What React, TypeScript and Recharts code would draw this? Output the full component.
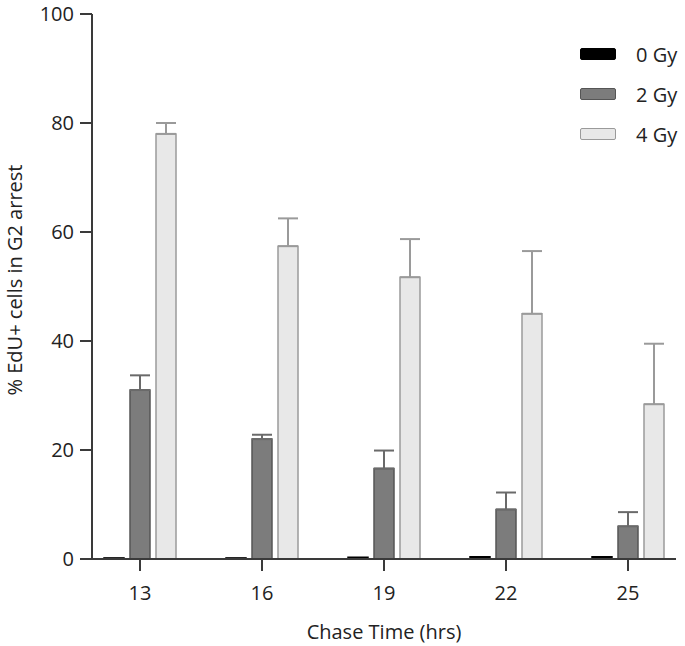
import React from "react";
import {
  BarChart,
  Bar,
  XAxis,
  YAxis,
  ErrorBar,
  Legend,
} from "recharts";

const categories = ["13", "16", "19", "22", "25"];
const gy0 = [0.2, 0.2, 0.3, 0.4, 0.4];
const gy2 = [31.0, 22.0, 16.6, 9.1, 6.0];
const gy2Err = [2.7, 0.8, 3.3, 3.1, 2.6];
const gy4 = [78.0, 57.4, 51.7, 45.0, 28.4];
const gy4Err = [2.0, 5.1, 7.0, 11.5, 11.1];
const yTicks = [0, 20, 40, 60, 80, 100];

const data = categories.map((time, i) => ({
  time,
  g0: gy0[i],
  g2: gy2[i],
  g4: gy4[i],
  e2: [0, gy2Err[i]],
  e4: [0, gy4Err[i]],
}));

const FONT = "'Open Sans', sans-serif";
const TEXT = "#222";
const AXIS = "#3a3a3a";

const legendItems = [
  { label: "0 Gy", fill: "#000000", stroke: "#000000" },
  { label: "2 Gy", fill: "#7c7c7c", stroke: "#555555" },
  { label: "4 Gy", fill: "#e8e8e8", stroke: "#9a9a9a" },
];

function LegendBox() {
  return (
    <div style={{ fontFamily: FONT, fontSize: 20, color: TEXT }}>
      {legendItems.map((it) => (
        <div
          key={it.label}
          style={{ display: "flex", alignItems: "center", height: 40 }}
        >
          <span
            style={{
              display: "inline-block",
              width: 34,
              height: 10,
              background: it.fill,
              border: `1.5px solid ${it.stroke}`,
              borderRadius: 2,
              marginRight: 20,
            }}
          />
          <span>{it.label}</span>
        </div>
      ))}
    </div>
  );
}

const YLabel = () => (
  <text
    x={22}
    y={280}
    transform="rotate(-90, 22, 280)"
    textAnchor="middle"
    fontSize={20}
    fontFamily={FONT}
    fill={TEXT}
  >
    % EdU+ cells in G2 arrest
  </text>
);

const XLabel = () => (
  <text
    x={384}
    y={639}
    textAnchor="middle"
    fontSize={20}
    fontFamily={FONT}
    fill={TEXT}
  >
    Chase Time (hrs)
  </text>
);

export default function App() {
  return (
    <div style={{ position: "absolute", left: 0, top: 0 }}>
      <BarChart
        width={685}
        height={646}
        data={data}
        margin={{ top: 14, right: 9, bottom: 0, left: 0 }}
        barSize={20}
        barGap={6}
      >
        <XAxis
          dataKey="time"
          height={87}
          padding={{ left: -13, right: -13 }}
          stroke={AXIS}
          strokeWidth={2}
          tickSize={12}
          tickMargin={15}
          tick={{ fontSize: 20, fill: TEXT, fontFamily: FONT }}
          label={<XLabel />}
        />
        <YAxis
          width={92}
          domain={[0, 100]}
          ticks={yTicks}
          stroke={AXIS}
          strokeWidth={2}
          tickSize={12}
          tickMargin={6}
          tick={{ fontSize: 20, fill: TEXT, fontFamily: FONT }}
          label={<YLabel />}
        />
        <Legend
          layout="vertical"
          align="center"
          verticalAlign="middle"
          wrapperStyle={{ left: 580, top: 34, width: 105 }}
          content={() => <LegendBox />}
        />
        <Bar
          dataKey="g0"
          name="0 Gy"
          fill="#000000"
          stroke="#000000"
          strokeWidth={1.5}
          isAnimationActive={false}
        />
        <Bar
          dataKey="g2"
          name="2 Gy"
          fill="#7c7c7c"
          stroke="#555555"
          strokeWidth={1.5}
          isAnimationActive={false}
        >
          <ErrorBar
            dataKey="e2"
            width={10}
            stroke="#6a6a6a"
            strokeWidth={2}
            direction="y"
          />
        </Bar>
        <Bar
          dataKey="g4"
          name="4 Gy"
          fill="#e8e8e8"
          stroke="#9a9a9a"
          strokeWidth={1.5}
          isAnimationActive={false}
        >
          <ErrorBar
            dataKey="e4"
            width={10}
            stroke="#9a9a9a"
            strokeWidth={2}
            direction="y"
          />
        </Bar>
      </BarChart>
    </div>
  );
}
